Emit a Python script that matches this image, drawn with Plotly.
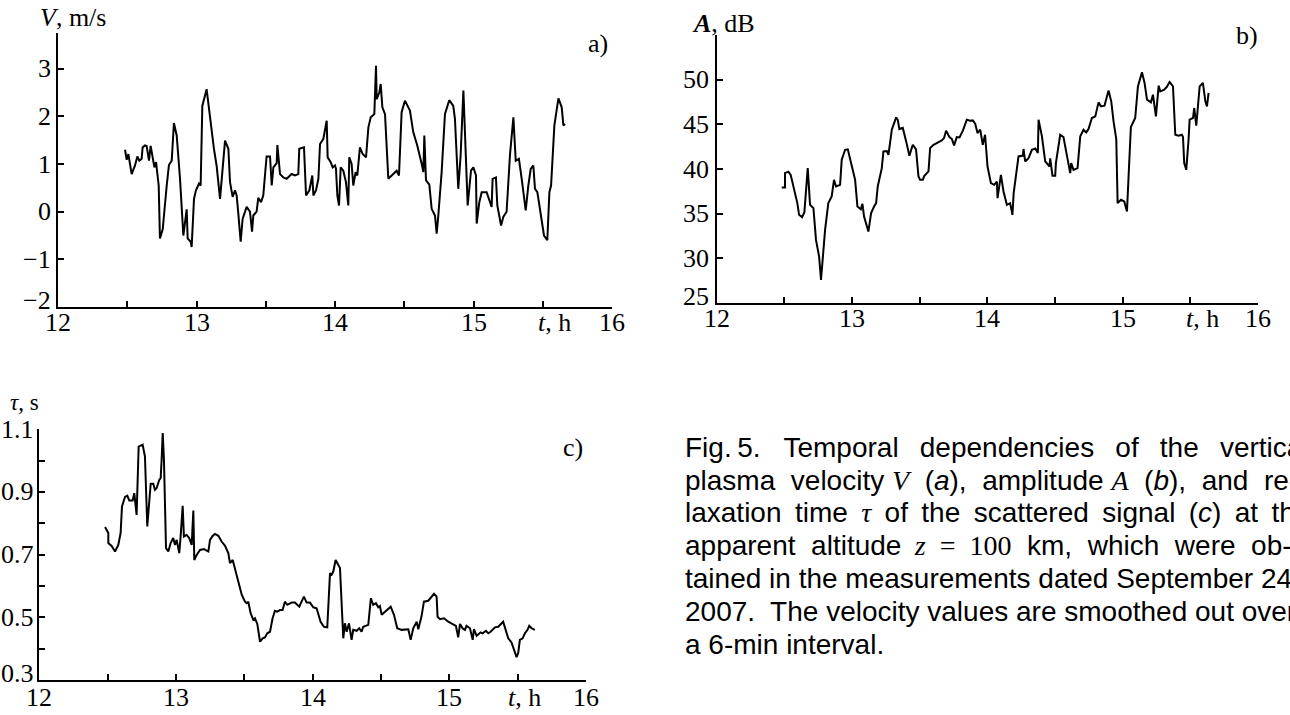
import plotly.graph_objects as go

# ---------------- data ----------------
t_a = [12.484, 12.496, 12.508, 12.532, 12.556, 12.573, 12.587, 12.604, 12.611, 12.628, 12.640, 12.657, 12.669,
       12.684, 12.696, 12.708, 12.717, 12.727, 12.736, 12.756, 12.785, 12.801, 12.821, 12.837, 12.857, 12.881,
       12.905, 12.919, 12.929, 12.936, 12.958, 12.965, 12.982, 12.996, 13.018, 13.030, 13.042, 13.073, 13.097,
       13.126, 13.145, 13.170, 13.206, 13.230, 13.242, 13.261, 13.278, 13.290, 13.302, 13.319, 13.333, 13.362,
       13.386, 13.401, 13.410, 13.434, 13.446, 13.466, 13.482, 13.506, 13.531, 13.543, 13.555, 13.579, 13.584,
       13.603, 13.627, 13.651, 13.687, 13.711, 13.735, 13.742, 13.776, 13.791, 13.815, 13.836, 13.844, 13.863,
       13.880, 13.892, 13.916, 13.940, 13.947, 13.969, 13.983, 14.000, 14.007, 14.017, 14.029, 14.041, 14.060,
       14.079, 14.096, 14.103, 14.120, 14.132, 14.149, 14.161, 14.180, 14.200, 14.224, 14.241, 14.258, 14.272,
       14.284, 14.296, 14.301, 14.320, 14.330, 14.342, 14.361, 14.385, 14.421, 14.445, 14.462, 14.481, 14.505,
       14.541, 14.565, 14.594, 14.626, 14.638, 14.645, 14.657, 14.681, 14.698, 14.722, 14.734, 14.746, 14.770,
       14.794, 14.825, 14.854, 14.866, 14.890, 14.907, 14.927, 14.946, 14.958, 14.982, 14.999, 15.018, 15.023,
       15.042, 15.059, 15.095, 15.112, 15.131, 15.138, 15.162, 15.172, 15.199, 15.215, 15.239, 15.263, 15.288,
       15.305, 15.328, 15.348, 15.377, 15.396, 15.413, 15.432, 15.444, 15.461, 15.480, 15.509, 15.533, 15.548,
       15.560, 15.584, 15.613, 15.637, 15.649, 15.661]
v_a = [1.30, 1.09, 1.21, 0.79, 0.97, 1.16, 1.07, 1.11, 1.35, 1.39, 1.38, 1.07, 1.38,
       1.09, 0.93, 1.04, 0.77, 0.55, -0.56, -0.37, 0.55, 0.98, 1.07, 1.86, 1.60, 0.69,
       -0.50, -0.18, 0.05, -0.56, -0.63, -0.74, 0.27, 0.45, 0.59, 0.55, 2.22, 2.57, 1.95,
       1.32, 0.97, 0.27, 1.49, 1.32, 0.62, 0.31, 0.45, 0.34, -0.04, -0.63, -0.15, 0.10,
       0.00, -0.42, -0.08, 0.00, 0.29, 0.20, 0.34, 1.16, 1.16, 0.55, 0.93, 1.02, 1.40,
       0.79, 0.72, 0.69, 0.79, 0.76, 0.79, 1.32, 1.35, 0.34, 0.45, 0.76, 0.34, 0.45,
       0.69, 1.42, 1.53, 1.91, 1.14, 1.04, 0.93, 0.97, 0.90, 0.34, 0.13, 0.93, 0.86,
       0.62, 0.13, 1.14, 1.00, 0.55, 0.83, 0.76, 1.35, 1.21, 1.14, 1.77, 1.98, 2.03,
       2.05, 3.06, 2.36, 2.50, 2.68, 2.19, 2.05, 0.69, 0.79, 0.86, 0.76, 2.09, 2.33,
       2.12, 1.67, 1.39, 1.00, 0.83, 1.60, 0.66, 0.57, 0.06, -0.08, -0.46, -0.08, 0.83,
       2.05, 2.34, 2.22, 1.95, 0.48, 1.18, 2.54, 0.97, 0.13, 0.86, 0.93, 0.76, -0.25,
       0.20, 0.41, 0.41, 0.27, 0.10, 0.69, 0.72, 0.13, -0.29, -0.11, 0.00, 1.18, 1.98,
       1.07, 1.11, 0.69, 0.03, 0.55, 0.90, 0.97, 0.48, 0.41, 0.06, -0.50, -0.60, 0.41,
       0.55, 1.81, 2.38, 2.19, 1.81, 1.84]

t_b = [12.482, 12.506, 12.506, 12.531, 12.548, 12.568, 12.597, 12.610, 12.632, 12.649, 12.661, 12.674, 12.691,
       12.716, 12.735, 12.758, 12.772, 12.785, 12.802, 12.826, 12.851, 12.868, 12.883, 12.913, 12.925, 12.950,
       12.970, 12.994, 13.024, 13.041, 13.066, 13.078, 13.090, 13.122, 13.142, 13.164, 13.179, 13.191, 13.221,
       13.233, 13.258, 13.270, 13.295, 13.327, 13.339, 13.351, 13.376, 13.401, 13.425, 13.450, 13.474, 13.492,
       13.504, 13.524, 13.534, 13.566, 13.578, 13.603, 13.627, 13.664, 13.681, 13.696, 13.721, 13.739, 13.755,
       13.775, 13.795, 13.820, 13.849, 13.874, 13.893, 13.911, 13.928, 13.948, 13.967, 13.984, 14.002, 14.027,
       14.051, 14.071, 14.076, 14.101, 14.120, 14.145, 14.169, 14.186, 14.195, 14.231, 14.263, 14.268, 14.280,
       14.305, 14.330, 14.355, 14.374, 14.379, 14.404, 14.428, 14.460, 14.465, 14.482, 14.502, 14.507, 14.539,
       14.563, 14.583, 14.613, 14.620, 14.637, 14.667, 14.687, 14.711, 14.731, 14.748, 14.773, 14.798, 14.822,
       14.840, 14.866, 14.896, 14.916, 14.933, 14.953, 14.963, 14.988, 15.012, 15.032, 15.044, 15.061, 15.093,
       15.113, 15.143, 15.162, 15.180, 15.209, 15.224, 15.234, 15.246, 15.266, 15.278, 15.307, 15.327, 15.347,
       15.372, 15.389, 15.413, 15.438, 15.446, 15.455, 15.470, 15.487, 15.495, 15.520, 15.529, 15.544, 15.569,
       15.593, 15.611, 15.623, 15.635]
a_b = [37.93, 37.93, 39.54, 39.70, 39.35, 38.04, 36.18, 34.87, 34.61, 35.13, 38.04, 40.10, 35.99,
       35.62, 32.06, 30.19, 27.58, 30.19, 33.18, 36.18, 36.92, 38.79, 38.04, 38.23, 41.03, 42.15,
       42.20, 40.66, 38.79, 35.80, 35.50, 36.10, 34.68, 33.00, 35.06, 35.80, 36.18, 38.04, 40.10,
       41.96, 42.00, 41.59, 44.39, 45.77, 45.50, 44.47, 44.60, 43.09, 41.48, 42.71, 42.20, 39.17,
       38.79, 38.79, 39.20, 39.73, 42.34, 42.71, 42.90, 43.20, 43.46, 44.28, 43.57, 43.35, 42.64,
       43.57, 43.53, 44.30, 45.52, 45.40, 45.44, 45.07, 44.03, 44.40, 42.71, 43.83, 40.28, 38.42,
       38.23, 38.60, 36.74, 39.35, 37.48, 35.99, 36.18, 34.87, 37.30, 41.41, 41.50, 42.24, 40.85,
       41.22, 42.15, 42.30, 41.78, 45.52, 43.66, 40.85, 40.28, 41.20, 39.24, 39.24, 40.66, 43.83,
       43.57, 41.78, 39.54, 40.66, 39.91, 40.10, 43.66, 44.39, 44.10, 44.47, 45.71, 45.89, 47.46,
       47.01, 47.09, 48.80, 47.57, 45.33, 43.35, 36.18, 36.55, 36.37, 35.24, 39.17, 44.70, 45.71,
       49.25, 50.82, 49.63, 47.76, 47.46, 48.32, 47.01, 45.89, 49.33, 48.69, 48.88, 49.20, 49.74,
       49.25, 43.83, 43.72, 43.83, 43.57, 40.66, 39.91, 43.27, 45.52, 45.71, 46.83, 44.84, 49.25,
       49.63, 47.57, 47.01, 48.51]

t_c = [12.481, 12.505, 12.505, 12.529, 12.554, 12.578, 12.595, 12.605, 12.627, 12.644, 12.658, 12.683, 12.695,
       12.712, 12.727, 12.756, 12.773, 12.790, 12.815, 12.834, 12.846, 12.858, 12.878, 12.888, 12.895, 12.903,
       12.912, 12.927, 12.944, 12.961, 12.980, 12.993, 13.005, 13.024, 13.034, 13.049, 13.058, 13.078, 13.097,
       13.115, 13.127, 13.134, 13.151, 13.176, 13.205, 13.237, 13.249, 13.268, 13.285, 13.310, 13.334, 13.359,
       13.383, 13.395, 13.415, 13.432, 13.456, 13.481, 13.505, 13.517, 13.529, 13.546, 13.566, 13.578, 13.595,
       13.615, 13.634, 13.651, 13.668, 13.688, 13.707, 13.724, 13.741, 13.761, 13.780, 13.797, 13.814, 13.846,
       13.870, 13.902, 13.936, 13.956, 13.980, 14.005, 14.029, 14.058, 14.083, 14.107, 14.127, 14.139, 14.151,
       14.168, 14.187, 14.200, 14.224, 14.236, 14.249, 14.266, 14.285, 14.297, 14.322, 14.341, 14.358, 14.370,
       14.407, 14.426, 14.443, 14.463, 14.480, 14.492, 14.505, 14.529, 14.553, 14.571, 14.595, 14.619, 14.651,
       14.675, 14.700, 14.717, 14.736, 14.761, 14.773, 14.797, 14.814, 14.846, 14.870, 14.888, 14.907, 14.914,
       14.932, 14.961, 14.992, 15.024, 15.048, 15.065, 15.078, 15.097, 15.114, 15.126, 15.151, 15.171, 15.180,
       15.200, 15.229, 15.244, 15.268, 15.285, 15.302, 15.334, 15.358, 15.394, 15.414, 15.431, 15.455, 15.472,
       15.492, 15.504, 15.516, 15.536, 15.553, 15.572, 15.585, 15.602, 15.626]
tau_c = [0.788, 0.769, 0.737, 0.728, 0.710, 0.731, 0.769, 0.854, 0.884, 0.888, 0.873, 0.873, 0.896,
         0.827, 1.045, 1.051, 1.013, 0.790, 0.926, 0.926, 0.907, 0.912, 0.939, 0.944, 1.003, 1.088,
         1.003, 0.721, 0.710, 0.737, 0.753, 0.731, 0.747, 0.705, 0.758, 0.856, 0.758, 0.763, 0.753,
         0.731, 0.841, 0.683, 0.699, 0.715, 0.718, 0.710, 0.747, 0.760, 0.766, 0.760, 0.742, 0.728,
         0.705, 0.673, 0.683, 0.657, 0.614, 0.572, 0.550, 0.545, 0.550, 0.513, 0.492, 0.497, 0.479,
         0.422, 0.433, 0.436, 0.449, 0.454, 0.497, 0.521, 0.518, 0.523, 0.523, 0.550, 0.540, 0.547,
         0.547, 0.534, 0.566, 0.547, 0.547, 0.532, 0.529, 0.486, 0.470, 0.468, 0.641, 0.636, 0.646,
         0.683, 0.670, 0.657, 0.433, 0.481, 0.454, 0.481, 0.428, 0.460, 0.457, 0.465, 0.454, 0.470,
         0.476, 0.561, 0.540, 0.545, 0.532, 0.536, 0.508, 0.518, 0.529, 0.534, 0.508, 0.465, 0.460,
         0.460, 0.462, 0.428, 0.465, 0.486, 0.462, 0.504, 0.550, 0.553, 0.566, 0.575, 0.566, 0.502,
         0.494, 0.497, 0.486, 0.479, 0.473, 0.436, 0.479, 0.465, 0.460, 0.473, 0.465, 0.428, 0.462,
         0.441, 0.452, 0.449, 0.457, 0.449, 0.454, 0.468, 0.470, 0.486, 0.460, 0.433, 0.420, 0.396,
         0.373, 0.386, 0.428, 0.433, 0.449, 0.460, 0.473, 0.465, 0.460]

x_tickvals = [12, 12.5, 13, 13.5, 14, 14.5, 15, 15.5, 16]
x_ticktext = ["12", "", "13", "", "14", "", "15", "", "16"]
va_tickvals = [-2, -1, 0, 1, 2, 3]
va_ticktext = ["\u22122", "\u22121", "0", "1", "2", "3"]
ab_tickvals = [25, 30, 35, 40, 45, 50]
ab_ticktext = ["25", "30", "35", "40", "45", "50"]
tc_tickvals = [0.3, 0.4, 0.5, 0.6, 0.7, 0.8, 0.9, 1.0, 1.1]
tc_ticktext = ["0.3", "", "0.5", "", "0.7", "", "0.9", "", "1.1"]

SERIF = "Liberation Serif"
SANS = "Liberation Sans"
MATH = "<span style='font-family:Liberation Serif'>%s</span>"
S = "&nbsp;"
T = "\u2009"

caption_lines = [
    ("Fig.\u20095." + S * 2 + " Temporal" + S + T + " dependencies" + S + T + " of" + S + T + " the" + S + T
     + " vertical"),
    ("plasma" + S + " velocity " + MATH % "<i>V</i>" + S + " (<i>a</i>)," + S + " amplitude " + MATH % "<i>A</i>"
     + S + " (<i>b</i>)," + S + " and" + S + " re-"),
    ("laxation " + T + "time " + T + MATH % "<i>\u03c4</i>" + T + " of " + T + "the " + T + "scattered " + T
     + "signal " + T + "(<i>c</i>) " + T + "at " + T + "the"),
    ("apparent" + S + " altitude " + T + MATH % ("<i>z</i>" + S + " =" + S + " 100") + S + " km," + S + " which"
     + S + " were" + S + " ob-"),
    "tained in the measurements dated September 24,",
    "2007.  The velocity values are smoothed out over",
    "a 6-min interval.",
]

W, H = 1290, 715


def px(x, y):
    return x / W, 1 - y / H


fig = go.Figure()
line_style = dict(color="black", width=2)
fig.add_trace(go.Scatter(x=t_a, y=v_a, mode="lines", line=line_style, xaxis="x", yaxis="y", showlegend=False))
fig.add_trace(go.Scatter(x=t_b, y=a_b, mode="lines", line=line_style, xaxis="x2", yaxis="y2", showlegend=False))
fig.add_trace(go.Scatter(x=t_c, y=tau_c, mode="lines", line=line_style, xaxis="x3", yaxis="y3", showlegend=False))

axis_common = dict(showline=True, linecolor="black", linewidth=2, ticks="inside", ticklen=6, tickwidth=2,
                   tickcolor="black", showgrid=False, zeroline=False, showticklabels=False,
                   automargin=False, fixedrange=True)


def xax(x0, x1, anchor):
    return dict(domain=[x0 / W, x1 / W], range=[12, 16], tickmode="array", tickvals=x_tickvals,
                anchor=anchor, **axis_common)


def yax(y_bottom, y_top, rng, tv, anchor):
    return dict(domain=[1 - y_bottom / H, 1 - y_top / H], range=rng, tickmode="array", tickvals=tv,
                anchor=anchor, **axis_common)


panels = [
    # (x axis, y axis, x0, x1, ybottom, ytop, yrange, ytickvals, yticktext, xlabel_y, ylabel_gap)
    ("x", "y", 58, 612, 307, 33, [-2, 3.75], va_tickvals, va_ticktext, 322, 5),
    ("x2", "y2", 716.5, 1258, 303, 35, [25, 55], ab_tickvals, ab_ticktext, 318, 6),
    ("x3", "y3", 39.3, 586, 680, 429.3, [0.3, 1.1], tc_tickvals, tc_ticktext, 697, 3),
]

layout = dict(width=W, height=H, margin=dict(l=0, r=0, t=0, b=0, autoexpand=False),
              paper_bgcolor="white", plot_bgcolor="white")
annotations = []


def add_text(text, x, y, size=26, family=SERIF, xanchor="center", xref="paper", yref="paper"):
    annotations.append(dict(text=text, x=x, y=y, xref=xref, yref=yref, showarrow=False,
                            xanchor=xanchor, yanchor="middle",
                            font=dict(family=family, size=size, color="black")))


for xa, ya, x0, x1, yb, yt, yr, ytv, ytt, xly, gap in panels:
    xkey = "xaxis" + xa[1:]
    ykey = "yaxis" + ya[1:]
    layout[xkey] = xax(x0, x1, ya)
    layout[ykey] = yax(yb, yt, yr, ytv, xa)
    for v, txt in zip(x_tickvals, x_ticktext):
        if txt:
            add_text(txt, v, 1 - xly / H, xref=xa, yref="paper")
    for i, (v, txt) in enumerate(zip(ytv, ytt)):
        if txt:
            annotations.append(dict(text=txt, x=(x0 - gap) / W, y=v, xref="paper", yref=ya,
                                    showarrow=False, xanchor="right", yanchor="middle",
                                    yshift=7 if i == 0 else 0,
                                    font=dict(family=SERIF, size=26, color="black")))

fig.update_layout(**layout)


def add_px(text, x, y, **kw):
    ax, ay = px(x, y)
    add_text(text, ax, ay, **kw)


add_px("<i>V</i>, m/s", 38, 18, xanchor="left")
add_px("a)", 598, 43)
add_px("<i>t</i>, h", 554, 322)
add_px("<b><i>A</i></b>, dB", 690, 24, xanchor="left")
add_px("b)", 1247, 36)
add_px("<i>t</i>, h", 1202, 318)
add_px("<i>\u03c4</i>, s", 8, 402, size=23, xanchor="left")
add_px("c)", 573, 447)
add_px("<i>t</i>, h", 524, 697)

cap_y = [447, 480, 512, 545, 578, 611, 644]
for line, yy in zip(caption_lines, cap_y):
    add_px(line, 683, yy, size=28, family=SANS, xanchor="left")

fig.update_layout(annotations=annotations)
fig.write_html("out.html", config={"displayModeBar": False})
